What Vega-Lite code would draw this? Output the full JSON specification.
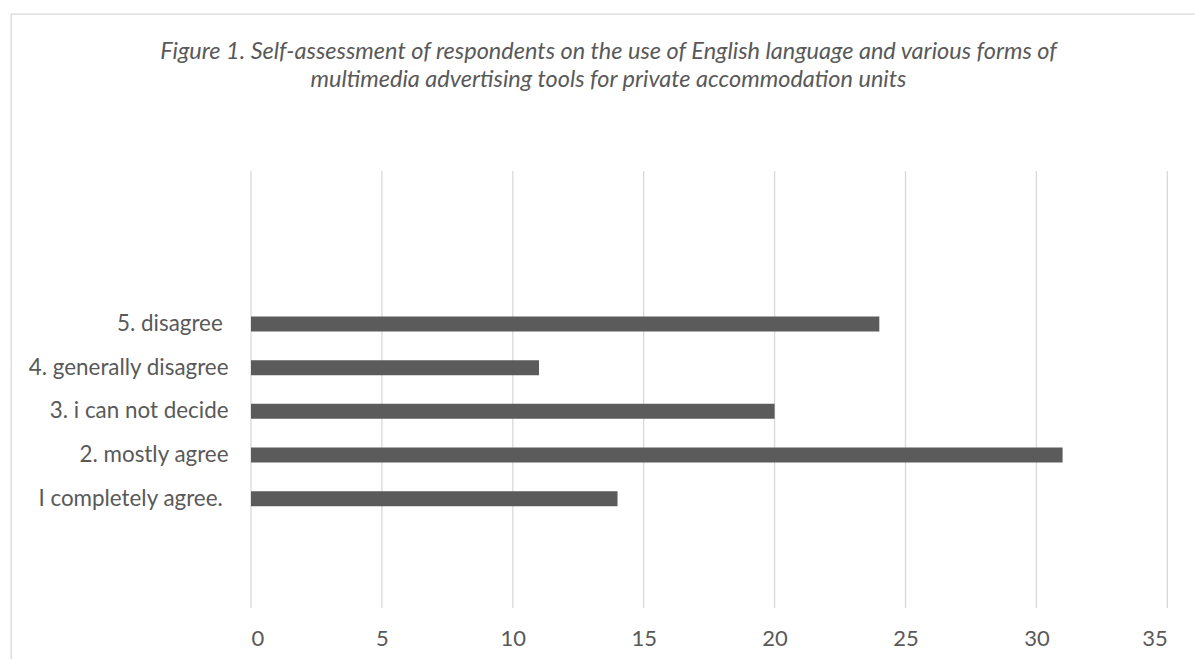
{
  "$schema": "https://vega.github.io/schema/vega-lite/v6.json",
  "width": 1185,
  "height": 646,
  "autosize": {"type": "none"},
  "padding": {"left": 11, "top": 14, "right": -1, "bottom": -1},
  "background": "white",
  "config": {
    "view": {"stroke": "#d9d9d9", "strokeWidth": 1.3},
    "font": "Lato"
  },
  "title": {
    "text": ["Figure 1. Self-assessment of respondents on the use of English language and various forms of", "multimedia advertising tools for private accommodation units"],
    "font": "Lato",
    "fontSize": 23.5,
    "fontStyle": "italic",
    "fontWeight": "normal",
    "color": "#595959",
    "anchor": "middle",
    "frame": "group",
    "baseline": "alphabetic",
    "lineHeight": 28,
    "offset": -96,
    "dx": 5
  },
  "resolve": {"scale": {"y": "independent"}, "axis": {"y": "independent"}},
  "layer": [
    {
      "data": {
        "values": [
          {"tick": 0}, {"tick": 5}, {"tick": 10}, {"tick": 15},
          {"tick": 20}, {"tick": 25}, {"tick": 30}, {"tick": 35}
        ]
      },
      "mark": {"type": "rule", "color": "#d9d9d9", "strokeWidth": 1.3},
      "encoding": {
        "x": {
          "field": "tick",
          "type": "quantitative",
          "scale": {"domain": [0, 35], "range": [240, 1156.3], "nice": false, "zero": true},
          "axis": {
            "title": null,
            "values": [0, 5, 10, 15, 20, 25, 30, 35],
            "domain": false,
            "ticks": false,
            "grid": false,
            "labelFont": "Lato",
            "labelFontSize": 22,
            "labelColor": "#595959",
            "labelPadding": 20,
            "offset": -52
          }
        },
        "y": {
          "datum": 0,
          "type": "quantitative",
          "scale": {"domain": [0, 1], "range": [157, 594], "nice": false, "zero": false},
          "axis": null
        },
        "y2": {"datum": 1}
      }
    },
    {
      "data": {
        "values": [
          {"response": "5. disagree\u00a0\u200b", "count": 24},
          {"response": "4. generally disagree", "count": 11},
          {"response": "3. i can not decide", "count": 20},
          {"response": "2. mostly agree", "count": 31},
          {"response": "I completely agree.\u00a0\u200b", "count": 14}
        ]
      },
      "mark": {"type": "bar", "color": "#5b5b5b"},
      "encoding": {
        "y": {
          "field": "response",
          "type": "nominal",
          "scale": {
            "type": "band",
            "domain": ["_a", "_b", "_c", "5. disagree\u00a0\u200b", "4. generally disagree", "3. i can not decide", "2. mostly agree", "I completely agree.\u00a0\u200b", "_d", "_e"],
            "range": [157, 594],
            "paddingInner": 0.657,
            "paddingOuter": 0.3285
          },
          "axis": {
            "title": null,
            "domain": false,
            "ticks": false,
            "grid": false,
            "labelExpr": "indexof(datum.label, '_') == 0 ? '' : datum.label",
            "labelFont": "Lato",
            "labelFontSize": 22.4,
            "labelColor": "#595959",
            "labelPadding": 0,
            "labelLimit": 400,
            "offset": -217
          }
        },
        "x": {
          "field": "count",
          "type": "quantitative",
          "scale": {"domain": [0, 35], "range": [240, 1156.3], "nice": false, "zero": true},
          "axis": {
            "title": null,
            "values": [0, 5, 10, 15, 20, 25, 30, 35],
            "domain": false,
            "ticks": false,
            "grid": false,
            "labelFont": "Lato",
            "labelFontSize": 22,
            "labelColor": "#595959",
            "labelPadding": 20,
            "offset": -52
          }
        }
      }
    }
  ]
}
